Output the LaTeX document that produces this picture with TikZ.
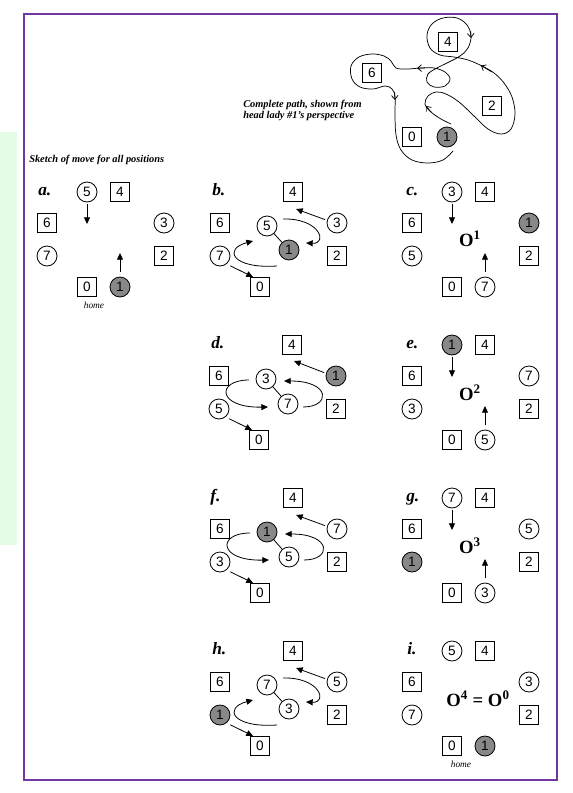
\documentclass[tikz,border=0pt]{standalone}
\usepackage{fontspec}
\setmainfont{Liberation Serif}
\newfontfamily\digitfont{Liberation Sans}
\usetikzlibrary{arrows.meta}
\definecolor{framepurple}{RGB}{112,56,160}
\definecolor{panelgreen}{RGB}{228,251,230}
\definecolor{ladygray}{RGB}{136,136,136}
\begin{document}
\begin{tikzpicture}[x=0.75pt,y=-0.75pt,
  digit/.style={font=\digitfont\fontsize{10.2}{12}\selectfont,inner sep=0pt,line width=0.6pt},
  sq/.style={digit,draw,minimum size=14.25pt},
  cir/.style={digit,draw,circle,minimum size=15pt},
  lady/.style={cir,fill=ladygray},
  lbl/.style={font=\bfseries\itshape\fontsize{13}{15}\selectfont,inner sep=0pt,anchor=base west},
  olbl/.style={font=\bfseries\fontsize{14}{16}\selectfont,inner sep=0pt},
  homelbl/.style={font=\itshape\fontsize{7}{8}\selectfont,inner sep=0pt},
  note/.style={font=\bfseries\itshape\fontsize{7.8}{8.6}\selectfont,inner sep=0pt,align=left},
  arr/.style={line width=0.6pt,-{Triangle[length=5pt,width=4.5pt]}},
  linkline/.style={line width=0.6pt},
  pathline/.style={line width=0.55pt},
  openarr/.style={line width=0.55pt,-{Straight Barb[length=3pt,width=5pt]}}
]
\useasboundingbox (0,0) rectangle (572,793);
% background panel and frame
\fill[panelgreen] (0,132) rectangle (17,545);
\draw[framepurple,line width=1.6pt] (24,14) rectangle (557,780);

% ---------- complete path ----------
\node[sq] (t4) at (448,42) {4};
\node[sq] (t6) at (372,73) {6};
\node[sq] (t2) at (492,106) {2};
\node[sq] (t0) at (412,137) {0};
\node[lady] (t1) at (447,137) {1};
\draw[pathline] plot[smooth,tension=0.6] coordinates {
 (451,124) (441,119) (431,112) (425,104) (428,96) (436,92) (446,94) (459,102)
 (474,116) (488,129) (501,134) (511,129) (515,114) (512,97) (504,83) (494,73)
 (482,66) (468,60) (454,57) (440,55) (430,48) (427,35) (432,24) (443,18)
 (457,18) (467,25) (471,36) (468,48) (460,56) (449,62) (437,68) (428,74)
 (427,82) (434,87) (445,86) (450,79) (445,72) (434,68) (421,68) (407,69)
 (396,68) (391,61) (384,56) (372,54) (359,57) (351,66) (352,79) (360,87)
 (373,89) (385,86) (392,89) (395,97) (395,115) (396,135) (401,150) (412,160)
 (428,163) (443,160) (453,151)};
\draw[openarr] (431,112) -- (426,106);
\draw[openarr] (492,72) -- (481,65.5);
\draw[openarr] (470.6,31) -- (471,38);
\draw[openarr] (425,68) -- (417,68.2);
\draw[openarr] (394.6,92) -- (395,100);
\node[note,anchor=west] (cap) at (243,110.5) {Complete path, shown from\\head lady \#1’s perspective};
\node[note,anchor=west] (sketch) at (29,160) {Sketch of move for all positions};

% ---------- panel a ----------
\begin{scope}[shift={(47,192)}]
\node[lbl] (aL) at (-9,3) {a.};
\node[cir] (a5) at (40,0) {5};
\node[sq] (a4) at (73,0) {4};
\node[sq] (a6) at (0,31) {6};
\node[cir] (a3) at (117,31) {3};
\node[cir] (a7) at (0,64) {7};
\node[sq] (a2) at (117,64) {2};
\node[sq] (a0) at (40,95) {0};
\node[lady] (a1) at (73,95) {1};
\coordinate (adn) at (40,32);
\coordinate (aup) at (73,61);
\draw[arr,shorten <=1.5pt] (a5) -- (adn);
\draw[arr,shorten <=3.5pt] (a1) -- (aup);
\node[homelbl] (ahome) at (47,113) {home};
\end{scope}

% ---------- panel b ----------
\begin{scope}[shift={(220,192)}]
\node[lbl] (bL) at (-8,3) {b.};
\node[sq] (b4) at (73,0) {4};
\node[sq] (b6) at (0,31) {6};
\node[cir] (b3) at (117,31) {3};
\node[cir] (b7) at (0,64) {7};
\node[sq] (b2) at (117,64) {2};
\node[sq] (b0) at (40,95) {0};
\node[cir] (b5) at (47,34) {5};
\node[lady] (b1) at (69,58) {1};
\draw[linkline] (b5) -- (b1);
\coordinate (b4t) at (76,17);
\coordinate (b0t) at (33,85);
\draw[arr,shorten <=1.5pt] (b3.165) -- (b4t);
\draw[arr,shorten <=3pt] (b7.-50) -- (b0t);
\coordinate (bta) at (63,27); \coordinate (btb) at (86,51);
\coordinate (bba) at (57,74); \coordinate (bbb) at (33,49);
\draw[arr] (bta) .. controls (100,26) and (108,52) .. (btb);
\draw[arr] (bba) .. controls (12,77) and (3,57) .. (bbb);
\end{scope}

% ---------- panel c ----------
\begin{scope}[shift={(412,192)}]
\node[lbl] (cL) at (-6,3) {c.};
\node[cir] (c3) at (40,0) {3};
\node[sq] (c4) at (73,0) {4};
\node[sq] (c6) at (0,31) {6};
\node[lady] (c1) at (117,31) {1};
\node[cir] (c5) at (0,64) {5};
\node[sq] (c2) at (117,64) {2};
\node[sq] (c0) at (40,95) {0};
\node[cir] (c7) at (73,95) {7};
\coordinate (cdn) at (40,32);
\coordinate (cup) at (73,61);
\draw[arr,shorten <=1.5pt] (c3) -- (cdn);
\draw[arr,shorten <=3.5pt] (c7) -- (cup);
\node[olbl] (cO) at (58,47) {O\textsuperscript{1}};
\end{scope}

% ---------- panel d ----------
\begin{scope}[shift={(219,345)}]
\node[lbl] (dL) at (-8,3) {d.};
\node[sq] (d4) at (73,0) {4};
\node[sq] (d6) at (0,31) {6};
\node[lady] (d1) at (117,31) {1};
\node[cir] (d5) at (0,64) {5};
\node[sq] (d2) at (117,64) {2};
\node[sq] (d0) at (40,95) {0};
\node[cir] (d3) at (47,34) {3};
\node[cir] (d7) at (69,59) {7};
\draw[linkline] (d3) -- (d7);
\coordinate (d4t) at (75,16);
\coordinate (d0t) at (33,85);
\draw[arr,shorten <=1.5pt] (d1.165) -- (d4t);
\draw[arr,shorten <=3pt] (d5.-50) -- (d0t);
\coordinate (dta) at (30,35); \coordinate (dtb) at (49,62);
\coordinate (dba) at (84,62); \coordinate (dbb) at (65,36);
\draw[arr] (dta) .. controls (-3,35) and (-2,63) .. (dtb);
\draw[arr] (dba) .. controls (112,62) and (112,36) .. (dbb);
\end{scope}

% ---------- panel e ----------
\begin{scope}[shift={(412,345)}]
\node[lbl] (eL) at (-6,3) {e.};
\node[lady] (e1) at (40,0) {1};
\node[sq] (e4) at (73,0) {4};
\node[sq] (e6) at (0,31) {6};
\node[cir] (e7) at (117,31) {7};
\node[cir] (e3) at (0,64) {3};
\node[sq] (e2) at (117,64) {2};
\node[sq] (e0) at (40,95) {0};
\node[cir] (e5) at (73,95) {5};
\coordinate (edn) at (40,32);
\coordinate (eup) at (73,61);
\draw[arr,shorten <=1.5pt] (e1) -- (edn);
\draw[arr,shorten <=3.5pt] (e5) -- (eup);
\node[olbl] (eO) at (58,48) {O\textsuperscript{2}};
\end{scope}

% ---------- panel f ----------
\begin{scope}[shift={(220,498)}]
\node[lbl] (fL) at (-10,3) {f.};
\node[sq] (f4) at (73,0) {4};
\node[sq] (f6) at (0,31) {6};
\node[cir] (f7) at (117,31) {7};
\node[cir] (f3) at (0,64) {3};
\node[sq] (f2) at (117,64) {2};
\node[sq] (f0) at (40,95) {0};
\node[lady] (f1) at (47,34) {1};
\node[cir] (f5) at (69,59) {5};
\draw[linkline] (f1) -- (f5);
\coordinate (f4t) at (76,17);
\coordinate (f0t) at (33,85);
\draw[arr,shorten <=1.5pt] (f7.165) -- (f4t);
\draw[arr,shorten <=3pt] (f3.-50) -- (f0t);
\coordinate (fta) at (30,35); \coordinate (ftb) at (49,62);
\coordinate (fba) at (84,62); \coordinate (fbb) at (65,36);
\draw[arr] (fta) .. controls (-3,35) and (-2,63) .. (ftb);
\draw[arr] (fba) .. controls (112,62) and (112,36) .. (fbb);
\end{scope}

% ---------- panel g ----------
\begin{scope}[shift={(412,498)}]
\node[lbl] (gL) at (-6,3) {g.};
\node[cir] (g7) at (40,0) {7};
\node[sq] (g4) at (73,0) {4};
\node[sq] (g6) at (0,31) {6};
\node[cir] (g5) at (117,31) {5};
\node[lady] (g1) at (0,64) {1};
\node[sq] (g2) at (117,64) {2};
\node[sq] (g0) at (40,95) {0};
\node[cir] (g3) at (73,95) {3};
\coordinate (gdn) at (40,32);
\coordinate (gup) at (73,61);
\draw[arr,shorten <=1.5pt] (g7) -- (gdn);
\draw[arr,shorten <=3.5pt] (g3) -- (gup);
\node[olbl] (gO) at (58,48) {O\textsuperscript{3}};
\end{scope}

% ---------- panel h ----------
\begin{scope}[shift={(220,651)}]
\node[lbl] (hL) at (-8,3) {h.};
\node[sq] (h4) at (73,0) {4};
\node[sq] (h6) at (0,31) {6};
\node[cir] (h5) at (117,31) {5};
\node[lady] (h1) at (0,64) {1};
\node[sq] (h2) at (117,64) {2};
\node[sq] (h0) at (40,95) {0};
\node[cir] (h7) at (47,34) {7};
\node[cir] (h3) at (69,58) {3};
\draw[linkline] (h7) -- (h3);
\coordinate (h4t) at (76,17);
\coordinate (h0t) at (33,85);
\draw[arr,shorten <=1.5pt] (h5.165) -- (h4t);
\draw[arr,shorten <=3pt] (h1.-50) -- (h0t);
\coordinate (hta) at (63,27); \coordinate (htb) at (86,51);
\coordinate (hba) at (57,74); \coordinate (hbb) at (33,49);
\draw[arr] (hta) .. controls (100,26) and (108,52) .. (htb);
\draw[arr] (hba) .. controls (12,77) and (3,57) .. (hbb);
\end{scope}

% ---------- panel i ----------
\begin{scope}[shift={(412,651)}]
\node[lbl] (iL) at (-5,3) {i.};
\node[cir] (i5) at (40,0) {5};
\node[sq] (i4) at (73,0) {4};
\node[sq] (i6) at (0,31) {6};
\node[cir] (i3) at (117,31) {3};
\node[cir] (i7) at (0,64) {7};
\node[sq] (i2) at (117,64) {2};
\node[sq] (i0) at (40,95) {0};
\node[lady] (i1) at (73,95) {1};
\node[olbl] (iO) at (66,48) {O\textsuperscript{4} = O\textsuperscript{0}};
\node[homelbl] (ihome) at (49,113) {home};
\end{scope}
\end{tikzpicture}
\end{document}
